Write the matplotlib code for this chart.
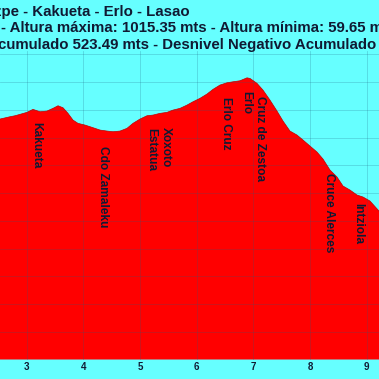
import numpy as np
import matplotlib.pyplot as plt

# elevation profile (km, metres)
dist_km = [2.529, 2.705, 2.794, 2.882, 3.005, 3.111, 3.235, 3.358, 3.464, 3.553,
           3.641, 3.729, 3.817, 3.905, 4.029, 4.152, 4.294, 4.417, 4.523, 4.647,
           4.770, 4.876, 5.000, 5.123, 5.229, 5.352, 5.476, 5.582, 5.705, 5.829,
           5.935, 6.058, 6.182, 6.288, 6.411, 6.535, 6.640, 6.764, 6.888, 6.941,
           7.064, 7.170, 7.293, 7.417, 7.523, 7.646, 7.770, 7.876, 7.999, 8.123,
           8.229, 8.352, 8.476, 8.582, 8.705, 8.829, 8.935, 9.058, 9.217]
alt_m = [866.7, 875.0, 878.6, 883.6, 890.8, 901.6, 893.0, 895.5, 905.2, 914.6,
         907.4, 887.2, 863.0, 851.2, 845.0, 836.8, 827.0, 823.4, 821.0, 823.4,
         833.2, 851.2, 866.7, 878.6, 881.0, 887.2, 890.8, 899.0, 905.2, 917.0,
         929.0, 941.3, 956.8, 973.7, 989.2, 997.5, 1001.0, 1004.7, 1015.3, 1013.0,
         995.3, 971.0, 935.0, 895.5, 859.5, 823.4, 809.0, 791.0, 769.4, 747.7,
         722.5, 682.9, 657.7, 625.2, 610.8, 592.8, 585.6, 571.2, 535.1]

# waypoints
wp_names = ["Kakueta", "Cdo Zamaleku", "Estatua", "Xoxoto", "Erlo Cruz",
            "Erlo", "Cruz de Zestoa", "Cruce Alerces", "Intziola"]
wp_km = [3.164, 4.347, 5.194, 5.458, 6.517, 6.870, 7.117, 8.335, 8.846]
wp_alt = [856, 769, 834, 838, 946, 968, 950, 672, 564]

x_ticks = [3, 4, 5, 6, 7, 8, 9]

title_lines = ["zpe - Kakueta - Erlo - Lasao",
               "- Altura máxima: 1015.35 mts - Altura mínima: 59.65 mts",
               "cumulado 523.49 mts - Desnivel Negativo Acumulado"]

bg = '#66ffff'
ink = '#101a33'
plt.rcParams['font.family'] = ['Liberation Sans', 'DejaVu Sans']

fig = plt.figure(figsize=(3.79, 3.79), dpi=100, facecolor=bg)
ax = fig.add_axes([0, 19.5 / 379, 1, (359.5 - 51) / 379])
ax.set_facecolor(bg)

ax.fill_between(dist_km, alt_m, 0, color='#ff0000', lw=0, zorder=2)
ax.plot(dist_km, alt_m, color='#c00000', lw=0.5, zorder=3)

ax.set_xlim(2.529, 9.217)
ax.set_ylim(0, 1112)
ax.set_xticks(x_ticks)
ax.set_yticks(np.arange(0, 1101, 100))
ax.set_yticklabels([])
ax.tick_params(axis='both', length=0)
ax.tick_params(axis='x', pad=2, labelsize=7, labelcolor=ink)
for lab in ax.get_xticklabels():
    lab.set_fontweight('bold')
ax.grid(True, color='#1f6080', alpha=0.25, lw=0.6, zorder=4)
ax.set_axisbelow(False)
for s in ax.spines.values():
    s.set_visible(False)

for name, k, a in zip(wp_names, wp_km, wp_alt):
    ax.text(k, a, name, rotation=270, ha='center', va='top', fontsize=8.6,
            fontweight='bold', color=ink, zorder=5)

tops = [5, 21.5, 38]
fig.text(190 / 379, 1 - tops[0] / 379, title_lines[0], ha='right', va='top',
         fontsize=10.8, fontweight='bold', color=ink)
fig.text(1 / 379, 1 - tops[1] / 379, title_lines[1], ha='left', va='top',
         fontsize=10.8, fontweight='bold', color=ink)
fig.text(376 / 379, 1 - tops[2] / 379, title_lines[2], ha='right', va='top',
         fontsize=10.8, fontweight='bold', color=ink)

fig.savefig('out.png', dpi=100, facecolor=bg)
